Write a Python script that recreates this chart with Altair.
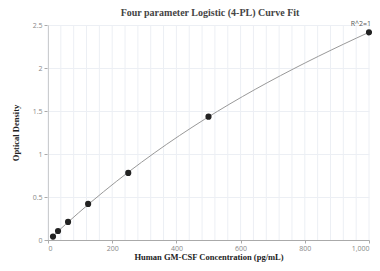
import altair as alt
import pandas as pd

conc = [15.6, 31.25, 62.5, 125, 250, 500, 1000]
od = [0.04, 0.105, 0.21, 0.42, 0.78, 1.434, 2.415]
r2_label = ["R^2=1"]
chart_title = ["Four parameter Logistic (4-PL) Curve Fit"]

df = pd.DataFrame({"conc": conc, "od": od})
lab = pd.DataFrame({"conc": [conc[-1]], "od": [od[-1]], "t": r2_label})
tdf = pd.DataFrame({"t": chart_title})

xscale = alt.Scale(domain=[0, 1000], nice=False)
yscale = alt.Scale(domain=[0, 2.5], nice=False)

xaxis = alt.Axis(
    title="Human GM-CSF Concentration (pg/mL)",
    values=[0, 200, 400, 600, 800, 1000],
    format=",d",
    grid=False,
    labelFontSize=7, labelColor="#888", labelFont="Open Sans",
    titleFont="Liberation Serif", titleFontSize=8.5, titleFontWeight="bold", titleColor="#222",
    domainColor="#aaa", tickColor="#aaa", tickSize=3,
    titlePadding=1, labelPadding=1,
)
yaxis = alt.Axis(
    title="Optical Density",
    values=[0, 0.5, 1, 1.5, 2, 2.5],
    format="~g",
    gridColor="#eceff4",
    labelFontSize=7, labelColor="#888", labelFont="Open Sans",
    titleFont="Liberation Serif", titleFontSize=8.5, titleFontWeight="bold", titleColor="#222",
    domainColor="#aaa", tickColor="#aaa", tickSize=4,
    titlePadding=12, labelPadding=2,
)

# vertical grid every 40 units
grid_vals = list(range(0, 1001, 40))
gdf = pd.DataFrame({"g": grid_vals})
vgrid = alt.Chart(gdf).mark_rule(color="#eceff4", strokeWidth=1).encode(
    x=alt.X("g:Q", scale=xscale, axis=xaxis)
)

base = alt.Chart(df)
curve = base.transform_regression("conc", "od", method="poly", order=3).mark_line(
    color="#999", strokeWidth=1
).encode(x=alt.X("conc:Q", scale=xscale), y=alt.Y("od:Q", scale=yscale, axis=yaxis))

pts = base.mark_circle(size=38, color="#222", opacity=1).encode(
    x=alt.X("conc:Q", scale=xscale), y=alt.Y("od:Q", scale=yscale)
)

txt = alt.Chart(lab).mark_text(fontSize=7, color="#555", dy=-8, dx=2, align="right", font="Open Sans").encode(
    x=alt.X("conc:Q", scale=xscale), y=alt.Y("od:Q", scale=yscale), text="t:N"
)

title_txt = alt.Chart(tdf).mark_text(
    font="Liberation Serif", fontSize=10, fontWeight="bold", color="#444",
    align="center", baseline="alphabetic"
).encode(x=alt.value(162), y=alt.value(-9), text="t:N")

chart = alt.layer(vgrid, curve, pts, txt, title_txt).properties(
    width=321, height=215,
    autosize=alt.AutoSizeParams(type="none"),
    padding={"left": 40, "top": 17, "right": 3, "bottom": 23},
).configure_view(stroke=None)

chart.save("out.html", embed_options={"renderer": "svg", "actions": False})
